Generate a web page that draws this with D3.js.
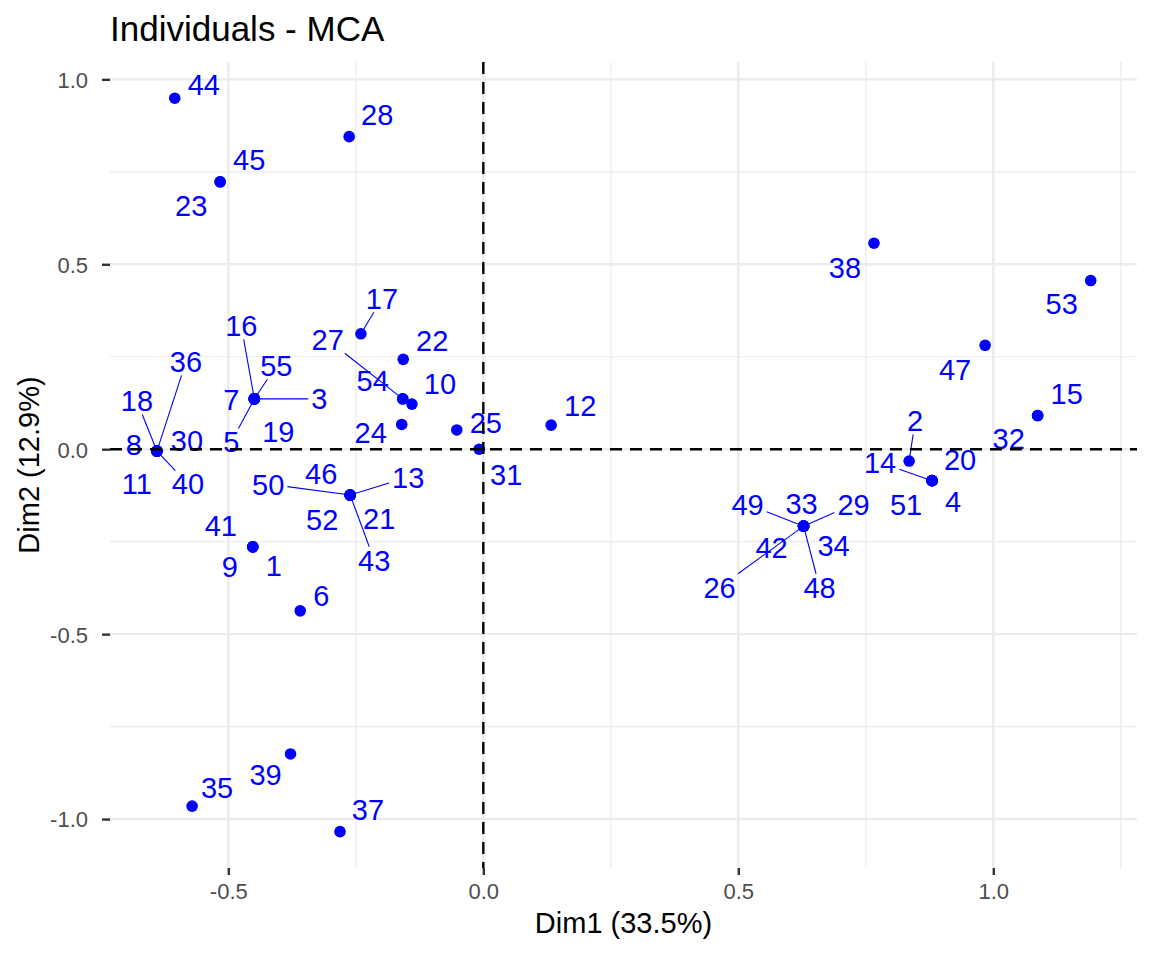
<!DOCTYPE html>
<html>
<head>
<meta charset="utf-8">
<script src="https://cdn.jsdelivr.net/npm/d3@7"></script>
<style>
  body { margin: 0; background: #fff; }
  text { font-family: "Liberation Sans", Arial, Helvetica, sans-serif; }
</style>
</head>
<body>
<div id="chart"></div>
<script>
// individual ids (labels)
const ids = ['1','2','3','4','5','6','7','8','9','10','11','12','13','14','15','16','17','18','19','20',
  '21','22','23','24','25','26','27','28','29','30','31','32','33','34','35','36','37','38','39','40',
  '41','42','43','44','45','46','47','48','49','50','51','52','53','54','55'];

// coordinates on Dim1 / Dim2
const dim1 = [-0.452, 0.835, -0.449, 0.880, -0.449, -0.359, -0.449, -0.640, -0.452, -0.140,
  -0.640, 0.133, -0.261, 0.880, 1.087, -0.449, -0.240, -0.640, -0.449, 0.880,
  -0.261, -0.157, -0.516, -0.160, -0.052, 0.628, -0.158, -0.263, 0.628, -0.640,
  -0.008, 1.087, 0.628, 0.628, -0.571, -0.640, -0.281, 0.766, -0.378, -0.640,
  -0.452, 0.628, -0.261, -0.605, -0.516, -0.261, 0.984, 0.628, 0.628, -0.261,
  0.880, -0.261, 1.191, -0.158, -0.449];
const dim2 = [-0.264, -0.032, 0.136, -0.085, 0.136, -0.437, 0.136, -0.005, -0.264, 0.122,
  -0.005, 0.065, -0.124, -0.085, 0.091, 0.136, 0.312, -0.005, 0.136, -0.085,
  -0.124, 0.243, 0.723, 0.067, 0.052, -0.208, 0.136, 0.845, -0.208, -0.005,
  0.000, 0.091, -0.208, -0.208, -0.965, -0.005, -1.034, 0.557, -0.824, -0.005,
  -0.264, -0.208, -0.124, 0.949, 0.723, -0.124, 0.281, -0.208, -0.208, -0.124,
  -0.085, -0.124, 0.456, 0.136, 0.136];

const xTicks = [-0.5, 0.0, 0.5, 1.0];
const yTicks = [-1.0, -0.5, 0.0, 0.5, 1.0];
const xMinor = [-0.25, 0.25, 0.75, 1.25];
const yMinor = [-0.75, -0.25, 0.25, 0.75];

// repelled label placement (pixel nudges from each point), layout only
const labelNudge = [[21,19],[6,-40],[65,0],[21,21],[-23,43],[21,-15],[-23,1],[-23,-6],[-23,20],[28,-21],
  [-20,33],[29,-20],[58,-18],[-52,-18],[29,-22],[-13,-73],[21,-35],[-20,-50],[24,33],[28,-21],
  [29,23],[29,-19],[-29,24],[-31,8],[29,-7],[-84,61],[-75,-59],[28,-22],[50,-22],[30,-10],
  [27,25],[-29,23],[-2,-23],[30,19],[25,-19],[29,-89],[28,-22],[-29,24],[-25,21],[31,33],
  [-32,-21],[-32,21],[24,65],[29,-14],[29,-22],[-29,-22],[-30,24],[16,61],[-56,-22],[-82,-11],
  [-26,24],[-28,24],[-29,23],[-30,-18],[22,-33]];
const withSegment = new Set(['16','55','3','5','36','18','40','17','27','13','50','43','2','14','49','29','26','48']);

const W = 1152, H = 960;
const margin = {top: 62, right: 15, bottom: 92, left: 110};
const blue = '#0000FF';
const labelSize = 29;

const svg = d3.select('#chart').append('svg')
  .attr('width', W).attr('height', H);

const x = d3.scaleLinear().domain([-0.732, 1.2818]).range([margin.left, W - margin.right]);
const y = d3.scaleLinear().domain([-1.1323, 1.0469]).range([H - margin.bottom, margin.top]);

const x0 = margin.left, x1 = W - margin.right, y0 = margin.top, y1 = H - margin.bottom;

// grid
const grid = svg.append('g');
grid.selectAll('.vmin').data(xMinor).enter().append('line')
  .attr('x1', d => x(d)).attr('x2', d => x(d)).attr('y1', y0).attr('y2', y1)
  .attr('stroke', '#EBEBEB').attr('stroke-width', 1.2);
grid.selectAll('.hmin').data(yMinor).enter().append('line')
  .attr('y1', d => y(d)).attr('y2', d => y(d)).attr('x1', x0).attr('x2', x1)
  .attr('stroke', '#EBEBEB').attr('stroke-width', 1.2);
grid.selectAll('.vmaj').data(xTicks).enter().append('line')
  .attr('x1', d => x(d)).attr('x2', d => x(d)).attr('y1', y0).attr('y2', y1)
  .attr('stroke', '#EBEBEB').attr('stroke-width', 2.4);
grid.selectAll('.hmaj').data(yTicks).enter().append('line')
  .attr('y1', d => y(d)).attr('y2', d => y(d)).attr('x1', x0).attr('x2', x1)
  .attr('stroke', '#EBEBEB').attr('stroke-width', 2.4);

// axes
const xAxis = svg.append('g')
  .attr('transform', `translate(0,${y1})`)
  .call(d3.axisBottom(x).tickValues(xTicks).tickFormat(d3.format('.1f')).tickSize(7).tickPadding(8));
const yAxis = svg.append('g')
  .attr('transform', `translate(${x0},0)`)
  .call(d3.axisLeft(y).tickValues(yTicks).tickFormat(d3.format('.1f')).tickSize(8).tickPadding(14));
[xAxis, yAxis].forEach(a => {
  a.select('.domain').remove();
  a.selectAll('.tick line').attr('stroke', '#333').attr('stroke-width', 2.4);
  a.selectAll('.tick text').attr('fill', '#4D4D4D').style('font-size', '22px')
    .style('font-family', '"Liberation Sans", Arial, Helvetica, sans-serif');
});
xAxis.selectAll('.tick text').text(d => d3.format('.1f')(d).replace('−', '-'));
yAxis.selectAll('.tick text').text(d => d3.format('.1f')(d).replace('−', '-')).attr('dy', '0.36em');

// points
svg.append('g').selectAll('circle')
  .data(ids).enter().append('circle')
  .attr('cx', (d, i) => x(dim1[i]))
  .attr('cy', (d, i) => y(dim2[i]))
  .attr('r', 5.8)
  .attr('fill', blue);

// labels
const segG = svg.append('g');
const labG = svg.append('g');
ids.forEach((id, i) => {
  const px = x(dim1[i]), py = y(dim2[i]);
  const cx = px + labelNudge[i][0], cy = py + labelNudge[i][1];
  const t = labG.append('text')
    .attr('x', cx).attr('y', cy).attr('dy', '0.36em')
    .attr('text-anchor', 'middle')
    .attr('fill', blue)
    .style('font-size', labelSize + 'px')
    .text(id);
  if (withSegment.has(id)) {
    const bw = t.node().getBBox().width / 2 + 3;
    const bh = labelSize * 0.358 + 3;
    const dx = px - cx, dy = py - cy;
    const s = Math.min(dx === 0 ? Infinity : bw / Math.abs(dx), dy === 0 ? Infinity : bh / Math.abs(dy));
    segG.append('line')
      .attr('x1', px).attr('y1', py)
      .attr('x2', cx + dx * s).attr('y2', cy + dy * s)
      .attr('stroke', blue).attr('stroke-width', 1.1);
  }
});

// reference lines at zero
svg.append('line')
  .attr('x1', x0).attr('x2', x1).attr('y1', y(0)).attr('y2', y(0))
  .attr('stroke', '#000').attr('stroke-width', 2.4).attr('stroke-dasharray', '12,8');
svg.append('line')
  .attr('x1', x(0)).attr('x2', x(0)).attr('y1', y0).attr('y2', y1)
  .attr('stroke', '#000').attr('stroke-width', 2.4).attr('stroke-dasharray', '12,8');

// titles
svg.append('text')
  .attr('x', x0).attr('y', 41)
  .style('font-size', '35px').attr('fill', '#000')
  .text('Individuals - MCA');
svg.append('text')
  .attr('x', (x0 + x1) / 2).attr('y', 933)
  .attr('text-anchor', 'middle')
  .style('font-size', '29px').attr('fill', '#000')
  .text('Dim1 (33.5%)');
svg.append('text')
  .attr('transform', `translate(39,${(y0 + y1) / 2}) rotate(-90)`)
  .attr('text-anchor', 'middle')
  .style('font-size', '29px').attr('fill', '#000')
  .text('Dim2 (12.9%)');
</script>
</body>
</html>
